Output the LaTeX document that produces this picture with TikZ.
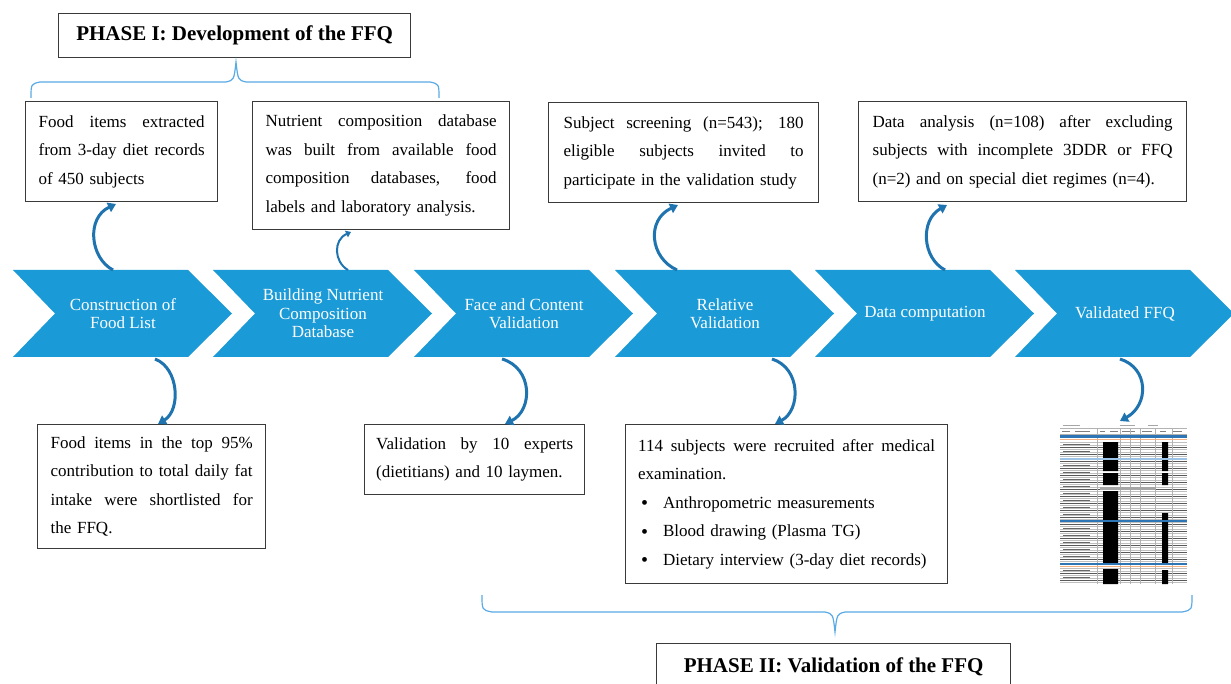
\documentclass[tikz,border=0pt]{standalone}
\usepackage{fontspec}
\setmainfont{Liberation Serif}
\usetikzlibrary{arrows.meta}
\definecolor{chevblue}{HTML}{1A9AD6}
\definecolor{arrblue}{HTML}{1F74B0}
\definecolor{bracecol}{HTML}{5AAAE6}
\definecolor{boxline}{HTML}{3A3A3A}
\definecolor{formblue}{HTML}{2E75B6}
\definecolor{formorange}{HTML}{F4B183}
\definecolor{formlblue}{HTML}{9DC3E6}
\newcommand\mychev[3]{%
  \fill[chevblue] (#1,270) -- ({#1+175},270) -- ({#1+219},313.5) -- ({#1+175},357) -- (#1,357) -- ({#1+42},313.5) -- cycle;
  \node[chevtext] (#2) at ({#1+110},313.5) {#3};}
\newcommand\jst[2]{\leavevmode\hbox to #1{\spaceskip=0.25em plus 1fil\relax #2}}
\newcommand\bul{\hspace*{3pt}\makebox[22pt][l]{\raisebox{-1.6pt}{\fontsize{20}{20}\selectfont\textbullet}}}
\begin{document}
\begin{tikzpicture}[x=1pt,y=-1pt,
  txtbox/.style={draw=boxline, line width=1.3pt, fill=white, anchor=north west, align=left,
    inner ysep=0pt, font=\fontsize{17}{28.5}\selectfont, text=black},
  phasebox/.style={draw=boxline, line width=1.3pt, fill=white, anchor=north west,
    font=\fontsize{21}{24}\selectfont\bfseries, inner sep=0pt, text=black},
  chevtext/.style={text=white, align=center, font=\fontsize{17}{18.5}\selectfont},
  curv/.style={draw=arrblue, line width=3pt, -{Triangle[width=10pt,length=8pt]}},
  curvthin/.style={draw=arrblue, line width=2pt, -{Triangle[width=7pt,length=5pt]}},
  brace/.style={draw=bracecol, line width=1.2pt}]
\useasboundingbox[fill=white] (0,0) rectangle (1231,684);

% ---------- phase titles ----------
\node[phasebox, minimum width=352pt, minimum height=44pt] (ph1) at (58,13) {PHASE I: Development of the FFQ};
\node[phasebox, minimum width=354pt, minimum height=46pt] (ph2) at (656,643) {PHASE II: Validation of the FFQ};

% ---------- braces ----------
\coordinate (br1) at (236,62);
\draw[brace] (31,98) .. controls (31,84) .. (40,82) -- (226,82) .. controls (234,80) .. (br1)
  .. controls (238,80) .. (246,82) -- (430,82) .. controls (439,84) .. (439,98);
\coordinate (br2) at (835,632);
\draw[brace] (482,595) .. controls (482,610) .. (492,612) -- (825,612) .. controls (833,614) .. (br2)
  .. controls (837,614) .. (845,612) -- (1182,612) .. controls (1192,610) .. (1192,595);

% ---------- chevrons ----------
\mychev{13}{c1}{Construction of\\Food List}
\mychev{213}{c2}{Building Nutrient\\Composition\\Database}
\mychev{414}{c3}{Face and Content\\Validation}
\mychev{615}{c4}{Relative\\Validation}
\mychev{815}{c5}{Data computation}
\mychev{1015}{c6}{Validated FFQ}

% ---------- top boxes ----------
\node[txtbox, text width=166pt, inner xsep=13pt, minimum height=100pt] (b1) at (25,101)
  {\jst{166pt}{Food items extracted}\\
   \jst{166pt}{from 3-day diet records}\\
   of 450 subjects};
\node[txtbox, text width=231pt, inner xsep=13pt, minimum height=128pt] (b2) at (252,101)
  {\jst{231pt}{Nutrient composition database}\\
   \jst{231pt}{was built from available food}\\
   \jst{231pt}{composition databases, food}\\
   labels and laboratory analysis.};
\node[txtbox, text width=240pt, inner xsep=15pt, minimum height=100pt] (b3) at (548,102)
  {\jst{240pt}{Subject screening (n=543); 180}\\
   \jst{240pt}{eligible subjects invited to}\\
   participate in the validation study};
\node[txtbox, text width=300pt, inner xsep=14pt, minimum height=100pt] (b4) at (858,101)
  {\jst{300pt}{Data analysis (n=108) after excluding}\\
   \jst{300pt}{subjects with incomplete 3DDR or FFQ}\\
   (n=2) and on special diet regimes (n=4).};

% ---------- bottom boxes ----------
\node[txtbox, text width=202pt, inner xsep=13pt, minimum height=124pt] (b5) at (37,424)
  {\jst{202pt}{Food items in the top 95\%}\\
   \jst{202pt}{contribution to total daily fat}\\
   \jst{202pt}{intake were shortlisted for}\\
   the FFQ.};
\node[txtbox, text width=197pt, inner xsep=11.5pt, minimum height=70pt] (b6) at (364,424)
  {\jst{197pt}{Validation by 10 experts}\\
   (dietitians) and 10 laymen.};
\node[txtbox, text width=297pt, inner xsep=12.5pt, minimum height=159pt] (b7) at (625,424)
  {\jst{297pt}{114 subjects were recruited after medical}\\
   examination.\\
   \bul Anthropometric measurements\\
   \bul Blood drawing (Plasma TG)\\
   \bul Dietary interview (3-day diet records)};

% ---------- form thumbnail ----------
\node[anchor=north west, inner sep=0pt, minimum width=127pt, minimum height=161pt] (form) at (1060,423) {};
\begin{scope}[shift={(1060,423)}]
  \draw[gray!70, line width=0.6pt] (3,2)--(20,2) (60,2)--(75,2) (88,2)--(98,2);
  \draw[gray!60, line width=0.5pt] (0,5)--(127,5);
  \draw[gray, line width=0.6pt] (2,8)--(10,8) (15,8)--(30,8) (40,8)--(45,8) (50,8)--(58,8)
     (62,8)--(75,8) (82,8)--(92,8) (100,8)--(106,8) (112,8)--(122,8);
  \draw[gray!60, line width=0.4pt] (0,11)--(127,11);
  \foreach \yy in {19,22.5,...,160} {\draw[gray!50, line width=0.4pt] (0,\yy)--(127,\yy);}
  \foreach \yy in {24,31,...,160} {\draw[black!65, line width=0.7pt] (0,\yy)--(127,\yy);}
  \foreach \yy in {21,28,...,160} {\draw[gray!80!black, line width=0.8pt] (3,\yy)--(30,\yy);}
  \foreach \xx in {37,60,70,80,95,112} {\draw[gray!60, line width=0.4pt] (\xx,5)--(\xx,161);}
  \fill[gray!70] (40,64) rectangle (96,67);
  \fill[black] (43,19) rectangle (58,48) (43,50) rectangle (58,62) (43,68) rectangle (58,140) (43,146) rectangle (58,161);
  \fill[black] (102,19) rectangle (108,48) (102,50) rectangle (108,62) (102,90) rectangle (108,140) (102,147) rectangle (108,161);
  \draw[formblue, line width=2.2pt] (0,13.5)--(127,13.5);
  \draw[formorange, line width=0.8pt] (0,16)--(127,16);
  \draw[formlblue, line width=1.2pt] (0,36)--(127,36);
  \draw[formblue, line width=2.5pt] (0,98)--(127,98);
  \draw[formblue, line width=2.5pt] (0,141)--(127,141);
  \draw[formorange, line width=0.8pt] (0,143.5)--(127,143.5);
\end{scope}

% ---------- curved arrows ----------
\coordinate (t1) at (113,270);  \coordinate (h1) at (116,204);
\coordinate (t2) at (348,270);  \coordinate (h2) at (351,232);
\coordinate (t3) at (677,270);  \coordinate (h3) at (678,205);
\coordinate (t4) at (945,270);  \coordinate (h4) at (947,205);
\draw[curv] (t1) .. controls (90,258) and (86,218) .. (h1);
\draw[curvthin] (t2) .. controls (334,262) and (333,240) .. (h2);
\draw[curv] (t3) .. controls (650,258) and (646,220) .. (h3);
\draw[curv] (t4) .. controls (922,258) and (920,220) .. (h4);

\coordinate (u1) at (155,359);  \coordinate (e1) at (158,424);
\coordinate (u2) at (502,359);  \coordinate (e2) at (505,424);
\coordinate (u3) at (772,359);  \coordinate (e3) at (775,424);
\coordinate (u4) at (1120,359); \coordinate (e4) at (1120,421);
\draw[curv] (u1) .. controls (179,368) and (181,410) .. (e1);
\draw[curv] (u2) .. controls (533,368) and (533,410) .. (e2);
\draw[curv] (u3) .. controls (801,368) and (801,410) .. (e3);
\draw[curv] (u4) .. controls (1149,368) and (1149,405) .. (e4);
\end{tikzpicture}
\end{document}
